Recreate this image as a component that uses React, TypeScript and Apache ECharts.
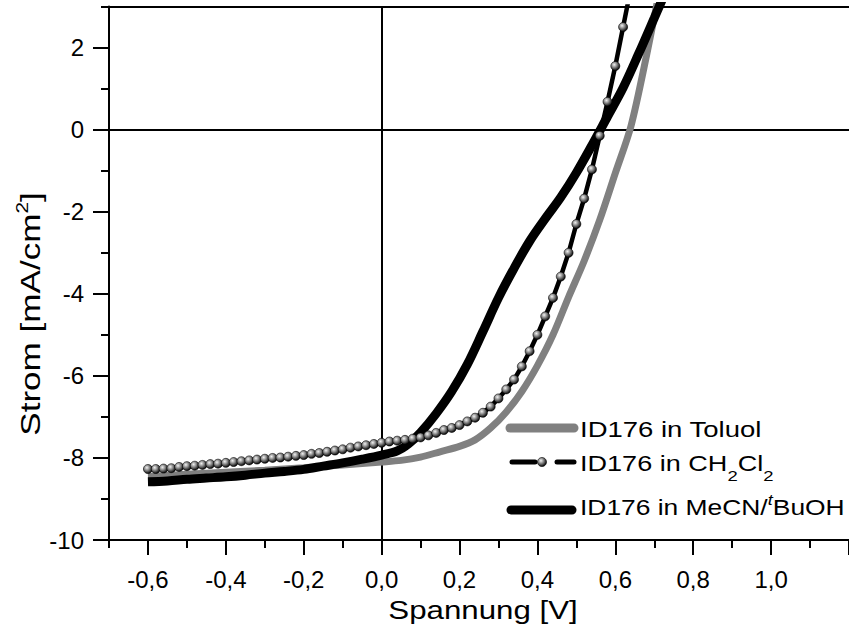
import React, { useEffect, useRef } from 'react';
import * as echarts from 'echarts';

// ---- data ----
const voltageToluol = [-0.6, -0.5, -0.4, -0.3, -0.2, -0.1, 0, 0.05, 0.1, 0.15, 0.2, 0.24, 0.28, 0.32, 0.36, 0.4, 0.44, 0.48, 0.52, 0.56, 0.6, 0.64, 0.68, 0.72];
const currentToluol = [-8.45, -8.4, -8.35, -8.3, -8.24, -8.17, -8.1, -8.06, -7.98, -7.85, -7.72, -7.56, -7.27, -6.88, -6.38, -5.75, -5.0, -4.08, -3.2, -2.2, -1.06, 0.08, 1.8, 3.7];

const voltageCH2Cl2 = [-0.6, -0.58, -0.56, -0.54, -0.52, -0.5, -0.48, -0.46, -0.44, -0.42, -0.4, -0.38, -0.36, -0.34, -0.32, -0.3, -0.28, -0.26, -0.24, -0.22, -0.2, -0.18, -0.16, -0.14, -0.12, -0.1, -0.08, -0.06, -0.04, -0.02, 0, 0.02, 0.04, 0.06, 0.08, 0.1, 0.12, 0.14, 0.16, 0.18, 0.2, 0.22, 0.24, 0.26, 0.28, 0.3, 0.32, 0.34, 0.36, 0.38, 0.4, 0.42, 0.44, 0.46, 0.48, 0.5, 0.52, 0.54, 0.56, 0.58, 0.6, 0.62, 0.64];
const currentCH2Cl2 = [-8.27, -8.27, -8.26, -8.25, -8.22, -8.2, -8.19, -8.17, -8.15, -8.14, -8.12, -8.1, -8.08, -8.06, -8.04, -8.02, -8.0, -7.99, -7.97, -7.95, -7.93, -7.9, -7.88, -7.85, -7.82, -7.79, -7.75, -7.72, -7.69, -7.66, -7.63, -7.6, -7.58, -7.56, -7.53, -7.5, -7.45, -7.39, -7.32, -7.27, -7.2, -7.11, -7.02, -6.9, -6.75, -6.55, -6.33, -6.09, -5.77, -5.4, -5.0, -4.55, -4.1, -3.58, -3.0, -2.3, -1.68, -0.97, -0.15, 0.68, 1.55, 2.5, 3.45];

const voltageMeCN = [-0.6, -0.55, -0.5, -0.45, -0.4, -0.35, -0.3, -0.25, -0.2, -0.15, -0.1, -0.05, 0, 0.04, 0.07, 0.1, 0.14, 0.18, 0.22, 0.26, 0.3, 0.34, 0.38, 0.42, 0.46, 0.5, 0.54, 0.58, 0.62, 0.66, 0.7, 0.74];
const currentMeCN = [-8.58, -8.56, -8.52, -8.49, -8.46, -8.42, -8.37, -8.33, -8.28, -8.2, -8.12, -8.03, -7.93, -7.83, -7.65, -7.38, -6.92, -6.38, -5.72, -4.92, -4.1, -3.38, -2.72, -2.17, -1.65, -1.05, -0.38, 0.32, 1.02, 1.85, 2.72, 3.6];

const xMajorTicks = [-0.6, -0.4, -0.2, 0, 0.2, 0.4, 0.6, 0.8, 1.0, 1.2];
const xLabelValues = [-0.6, -0.4, -0.2, 0, 0.2, 0.4, 0.6, 0.8, 1.0];
const xMinorTicks = [-0.7, -0.5, -0.3, -0.1, 0.1, 0.3, 0.5, 0.7, 0.9, 1.1];
const yMajorTicks = [-10, -8, -6, -4, -2, 0, 2];
const yMinorTicks = [-9, -7, -5, -3, -1, 1, 3];

const xTitle = 'Spannung [V]';
const yTitle = 'Strom [mA/cm{sup|2}]';
const legendToluol = 'ID176 in Toluol';
const legendCH2Cl2 = 'ID176 in CH{sub|2}Cl{sub|2}';
const legendMeCN = 'ID176 in MeCN/{sup|t}BuOH';

const FONT = '"Liberation Sans", Arial, Helvetica, sans-serif';

const zip = (xs: number[], ys: number[]) => xs.map((x, i) => [x, ys[i]]);

const ballFill = () => ({
  type: 'radial',
  x: 0.38,
  y: 0.35,
  r: 0.65,
  colorStops: [
    { offset: 0, color: '#f2f2f2' },
    { offset: 0.45, color: '#8c8c8c' },
    { offset: 1, color: '#0a0a0a' },
  ],
});

const fmtX = (v: number) => (Math.abs(v) < 1e-9 ? 0 : v).toFixed(1).replace('.', ',');

export default function App() {
  const ref = useRef<HTMLDivElement>(null);

  useEffect(() => {
    if (!ref.current) return;
    const chart = echarts.init(ref.current, undefined, { renderer: 'svg' });

    const axisLineStyle = { color: '#000', width: 2 };
    const subRich = {
      fontFamily: FONT,
      fontSize: 15,
      fill: '#000',
      color: '#000',
      padding: [26, 0, 0, 0],
    };
    const supRich = {
      fontFamily: FONT,
      fontSize: 15,
      fill: '#000',
      color: '#000',
      padding: [0, 0, 14, 0],
    };
    const supItalic = { ...supRich, fontStyle: 'italic' };

    const option: any = {
      animation: false,
      backgroundColor: '#ffffff',
      grid: { left: 109, right: -10, top: 6.5, bottom: 84, containLabel: false },
      xAxis: [
        {
          type: 'value',
          position: 'bottom',
          min: -0.7,
          max: 1.2,
          axisLine: { show: true, onZero: false, lineStyle: axisLineStyle },
          axisTick: { show: true, inside: false, length: 15, lineStyle: { color: '#000', width: 2 }, customValues: xMajorTicks },
          axisLabel: {
            show: true,
            customValues: xLabelValues,
            formatter: (v: number) => fmtX(v),
            color: '#000',
            fontFamily: FONT,
            fontSize: 24,
            margin: 27,
          },
          splitLine: { show: false },
        },
        {
          type: 'value',
          position: 'bottom',
          min: -0.7,
          max: 1.2,
          axisLine: { show: false, onZero: false },
          axisTick: { show: true, inside: false, length: 8, lineStyle: { color: '#000', width: 2 }, customValues: xMinorTicks },
          axisLabel: { show: false },
          splitLine: { show: false },
        },
        {
          type: 'value',
          position: 'top',
          min: -0.7,
          max: 1.2,
          axisLine: { show: true, onZero: false, lineStyle: axisLineStyle },
          axisTick: { show: false },
          axisLabel: { show: false },
          splitLine: { show: false },
        },
      ],
      yAxis: [
        {
          type: 'value',
          position: 'left',
          min: -10,
          max: 3,
          axisLine: { show: true, onZero: false, lineStyle: axisLineStyle },
          axisTick: { show: true, inside: false, length: 16, lineStyle: { color: '#000', width: 2 }, customValues: yMajorTicks },
          axisLabel: {
            show: true,
            customValues: yMajorTicks,
            formatter: (v: number) => String(Math.round(v)),
            color: '#000',
            fontFamily: FONT,
            fontSize: 24,
            margin: 25,
          },
          splitLine: { show: false },
        },
        {
          type: 'value',
          position: 'left',
          min: -10,
          max: 3,
          axisLine: { show: false, onZero: false },
          axisTick: { show: true, inside: false, length: 8, lineStyle: { color: '#000', width: 2 }, customValues: yMinorTicks },
          axisLabel: { show: false },
          splitLine: { show: false },
        },
      ],
      series: [
        {
          name: 'ID176 in Toluol',
          type: 'line',
          xAxisIndex: 0,
          yAxisIndex: 0,
          data: zip(voltageToluol, currentToluol),
          showSymbol: false,
          symbol: 'none',
          smooth: 0.3,
          lineStyle: { color: '#808080', width: 7 },
          z: 2,
          markLine: {
            silent: true,
            symbol: 'none',
            label: { show: false },
            lineStyle: { color: '#000', width: 2, type: 'solid' },
            data: [{ yAxis: 0 }, { xAxis: 0 }],
            z: 1,
          },
        },
        {
          name: 'ID176 in MeCN/tBuOH',
          type: 'line',
          xAxisIndex: 0,
          yAxisIndex: 0,
          data: zip(voltageMeCN, currentMeCN),
          showSymbol: false,
          symbol: 'none',
          smooth: 0.35,
          lineStyle: { color: '#000', width: 9 },
          z: 3,
        },
        {
          name: 'ID176 in CH2Cl2',
          type: 'line',
          xAxisIndex: 0,
          yAxisIndex: 0,
          data: zip(voltageCH2Cl2, currentCH2Cl2),
          symbol: 'circle',
          symbolSize: 9,
          showSymbol: true,
          showAllSymbol: true,
          lineStyle: { color: '#000', width: 4.5 },
          itemStyle: { color: ballFill(), borderColor: '#000', borderWidth: 0.6 },
          z: 4,
        },
      ],
      graphic: [
        // y-axis title
        {
          type: 'text',
          x: 31,
          y: 314,
          rotation: Math.PI / 2,
          scaleX: 1.3,
          style: {
            text: yTitle,
            fontFamily: FONT,
            fontSize: 27,
            fill: '#000',
            align: 'center',
            verticalAlign: 'middle',
            rich: { sup: { ...supRich, fontSize: 16, padding: [0, 0, 17, 0] } },
          },
        },
        // x-axis title
        {
          type: 'text',
          x: 483,
          y: 610,
          scaleX: 1.25,
          style: {
            text: xTitle,
            fontFamily: FONT,
            fontSize: 25,
            fill: '#000',
            align: 'center',
            verticalAlign: 'middle',
          },
        },
        // legend: Toluol
        {
          type: 'line',
          shape: { x1: 510, y1: 428, x2: 574, y2: 428 },
          style: { stroke: '#808080', lineWidth: 9, lineCap: 'round' },
        },
        {
          type: 'text',
          x: 580,
          y: 429,
          scaleX: 1.25,
          style: { text: legendToluol, fontFamily: FONT, fontSize: 22, fill: '#000', align: 'left', verticalAlign: 'middle' },
        },
        // legend: CH2Cl2
        {
          type: 'line',
          shape: { x1: 512, y1: 462, x2: 535, y2: 462 },
          style: { stroke: '#000', lineWidth: 5, lineCap: 'round' },
        },
        {
          type: 'circle',
          shape: { cx: 542, cy: 462, r: 4.5 },
          style: { fill: ballFill(), stroke: '#000', lineWidth: 0.6 },
        },
        {
          type: 'line',
          shape: { x1: 557, y1: 462, x2: 574, y2: 462 },
          style: { stroke: '#000', lineWidth: 5, lineCap: 'round' },
        },
        {
          type: 'text',
          x: 580,
          y: 463,
          scaleX: 1.23,
          style: {
            text: legendCH2Cl2,
            fontFamily: FONT,
            fontSize: 22,
            fill: '#000',
            align: 'left',
            verticalAlign: 'middle',
            rich: { sub: subRich },
          },
        },
        // legend: MeCN/tBuOH
        {
          type: 'line',
          shape: { x1: 511, y1: 510, x2: 572, y2: 510 },
          style: { stroke: '#000', lineWidth: 9, lineCap: 'round' },
        },
        {
          type: 'text',
          x: 580,
          y: 507,
          scaleX: 1.2,
          style: {
            text: legendMeCN,
            fontFamily: FONT,
            fontSize: 22,
            fill: '#000',
            align: 'left',
            verticalAlign: 'middle',
            rich: { sup: supItalic },
          },
        },
      ],
    };

    chart.setOption(option);
    return () => chart.dispose();
  }, []);

  return (
    <div
      ref={ref}
      style={{ position: 'fixed', left: 0, top: 0, width: 849, height: 624, background: '#fff' }}
    />
  );
}
